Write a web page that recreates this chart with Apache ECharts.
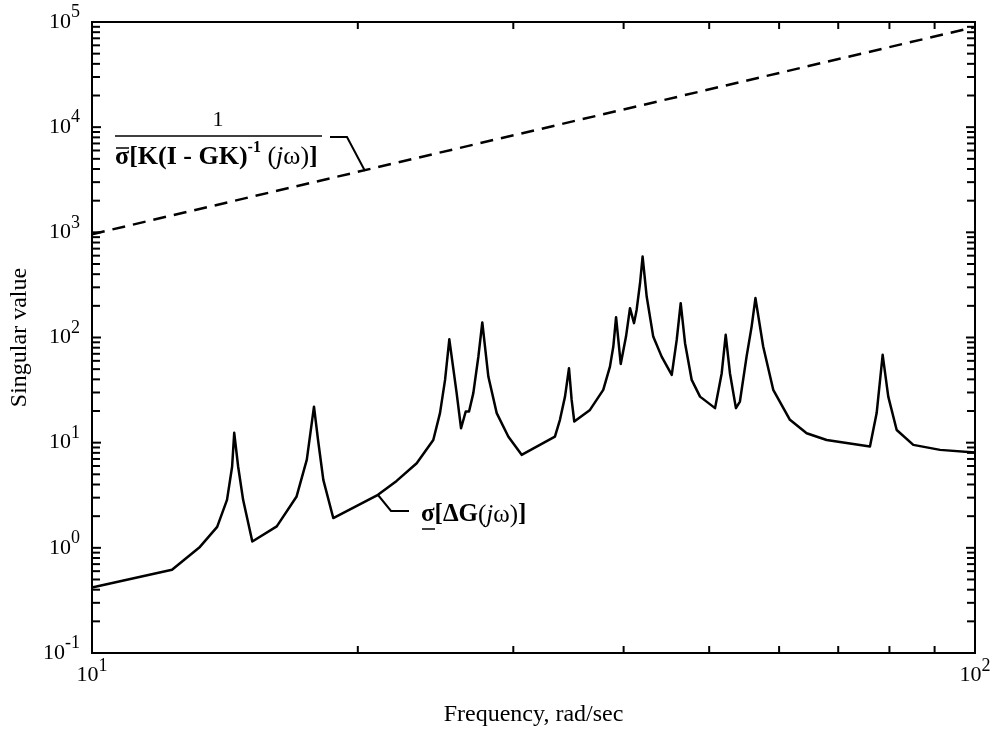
<!DOCTYPE html>
<html>
<head>
<meta charset="utf-8">
<script src="https://cdn.jsdelivr.net/npm/echarts@6/dist/echarts.min.js"></script>
<style>
  html, body { margin: 0; padding: 0; background: #fff; }
  #chart { width: 995px; height: 736px; }
</style>
</head>
<body>
<div id="chart"></div>
<script>
// Frequency grid (rad/sec) and lower singular value of the additive uncertainty
const freq = [10.0, 12.32, 13.25, 13.86, 14.22, 14.41, 14.49, 14.64, 14.83, 15.19,
  16.19, 17.05, 17.51, 17.84, 18.03, 18.28, 18.76, 21.08, 22.13, 23.32,
  24.35, 24.78, 25.11, 25.39, 25.88, 26.18, 26.50, 26.73, 27.03, 27.39,
  27.67, 28.11, 28.73, 29.62, 30.66, 33.44, 33.88, 34.33, 34.69, 34.93,
  35.17, 36.64, 37.93, 38.60, 38.94, 39.22, 39.70, 40.25, 40.67, 41.10,
  41.38, 41.75, 42.03, 42.48, 43.21, 44.17, 45.35, 45.94, 46.42, 46.95,
  47.77, 48.82, 50.77, 51.66, 52.20, 52.78, 53.61, 54.17, 55.12, 55.85,
  56.41, 57.56, 59.09, 61.72, 64.47, 67.92, 76.04, 77.38, 78.6, 79.76,
  81.53, 85.14, 91.3, 100];
const sigmaDeltaG = [0.42, 0.62, 1.02, 1.58, 2.86, 5.9, 12.4, 5.9, 2.86, 1.15,
  1.6, 3.08, 6.9, 22.0, 10.6, 4.43, 1.92, 3.19, 4.33, 6.38,
  10.6, 19.1, 39.5, 96, 29.6, 13.7, 19.8, 19.8, 29.6, 66,
  139, 42.5, 19.1, 11.4, 7.66, 11.4, 16.5, 27.4, 51, 25.5,
  15.9, 20.5, 31.8, 52.9, 82, 156, 56, 102, 190, 137,
  183, 328, 588, 245, 102, 65.8, 44.1, 94.9, 212, 88.3,
  39.5, 27.4, 21.3, 45.8, 106, 45.8, 21.3, 24.6, 65.8, 127,
  237, 82, 31.8, 16.5, 12.3, 10.6, 9.18, 19.1, 68.4, 27.4,
  13.2, 9.53, 8.54, 8.05];

// Robustness bound 1 / sigma_max[K(I-GK)^-1]
const boundFreq = [10, 100];
const boundValue = [960, 89600];

// Axis ranges and tick layout
const xRange = [10, 100];
const yRange = [0.1, 100000];
const yDecades = [-1, 0, 1, 2, 3, 4, 5];
const minorSteps = [2, 3, 4, 5, 6, 7, 8, 9];

const FONT = '"Liberation Serif", "Times New Roman", serif';

// tick marks: [x, y, kind]  kind 0 = y major, 1 = y minor, 2 = x minor
const tickData = [];
yDecades.forEach(function (d) {
  tickData.push([xRange[0], Math.pow(10, d), 0]);
  if (d < 5) {
    minorSteps.forEach(function (k) { tickData.push([xRange[0], k * Math.pow(10, d), 1]); });
  }
});
minorSteps.forEach(function (k) { tickData.push([k * 10, yRange[0], 2]); });

const chart = echarts.init(document.getElementById('chart'), null, { renderer: 'canvas' });

function powLabel(v) {
  const e = Math.round(Math.log10(v));
  return '{b|10}{e|' + e + '}';
}
const powRich = {
  b: { fontFamily: FONT, fontSize: 22, color: '#000' },
  e: { fontFamily: FONT, fontSize: 18, color: '#000', padding: [0, 0, 19, 0] }
};

chart.setOption({
  animation: false,
  backgroundColor: '#fff',
  grid: {
    left: 92, right: 20, top: 22, bottom: 83,
    show: true, borderColor: '#000', borderWidth: 2, backgroundColor: 'transparent'
  },
  xAxis: {
    type: 'log', logBase: 10, min: xRange[0], max: xRange[1],
    axisLine: { show: false }, axisTick: { show: false }, splitLine: { show: false },
    axisLabel: { formatter: powLabel, rich: powRich, margin: 4 },
    name: 'Frequency, rad/sec', nameLocation: 'middle', nameGap: 50,
    nameTextStyle: { fontFamily: FONT, fontSize: 24, color: '#000' }
  },
  yAxis: {
    type: 'log', logBase: 10, min: yRange[0], max: yRange[1],
    axisLine: { show: false }, axisTick: { show: false }, splitLine: { show: false },
    axisLabel: { formatter: powLabel, rich: powRich, margin: 12 },
    name: 'Singular value', nameLocation: 'middle', nameGap: 58, nameRotate: 90,
    nameTextStyle: { fontFamily: FONT, fontSize: 24, color: '#000' }
  },
  series: [
    {
      type: 'custom',
      silent: true,
      data: tickData,
      renderItem: function (params, api) {
        const kind = api.value(2);
        const children = [];
        const st = { stroke: '#000', lineWidth: 2 };
        if (kind === 2) {
          const p = api.coord([api.value(0), yRange[0]]);
          const q = api.coord([api.value(0), yRange[1]]);
          children.push({ type: 'line', shape: { x1: p[0], y1: p[1], x2: p[0], y2: p[1] - 7 }, style: st });
          children.push({ type: 'line', shape: { x1: q[0], y1: q[1], x2: q[0], y2: q[1] + 7 }, style: st });
        } else {
          const len = kind === 0 ? 9 : 8;
          const p = api.coord([xRange[0], api.value(1)]);
          const q = api.coord([xRange[1], api.value(1)]);
          children.push({ type: 'line', shape: { x1: p[0], y1: p[1], x2: p[0] + len, y2: p[1] }, style: st });
          children.push({ type: 'line', shape: { x1: q[0], y1: q[1], x2: q[0] - len, y2: q[1] }, style: st });
        }
        return { type: 'group', children: children };
      },
      z: 5
    },
    {
      type: 'line',
      data: boundFreq.map(function (f, i) { return [f, boundValue[i]]; }),
      symbol: 'none',
      lineStyle: { color: '#000', width: 2.5, type: [13, 8] },
      z: 3
    },
    {
      type: 'line',
      data: freq.map(function (f, i) { return [f, sigmaDeltaG[i]]; }),
      symbol: 'none',
      lineStyle: { color: '#000', width: 2.5, join: 'round' },
      z: 3
    }
  ],
  graphic: [
    // bound label: 1 over sigma-bar[...]
    {
      type: 'text', x: 218, y: 120,
      style: { text: '1', fontFamily: FONT, fontSize: 22, fill: '#000', align: 'center', verticalAlign: 'middle' }
    },
    { type: 'line', shape: { x1: 115, y1: 136, x2: 322, y2: 136 }, style: { stroke: '#000', lineWidth: 1.5 } },
    {
      type: 'text', x: 115, y: 157,
      style: {
        text: '{b|σ[K(I - GK)}{s|-1}{r| (}{i|j}{r|ω)}{b|]}',
        align: 'left', verticalAlign: 'middle', fill: '#000',
        rich: {
          b: { fontFamily: FONT, fontSize: 26, fontWeight: 'bold', color: '#000' },
          s: { fontFamily: FONT, fontSize: 16, fontWeight: 'bold', color: '#000', padding: [0, 0, 18, 0] },
          r: { fontFamily: FONT, fontSize: 26, color: '#000' },
          i: { fontFamily: FONT, fontSize: 26, fontStyle: 'italic', color: '#000' }
        }
      }
    },
    { type: 'line', shape: { x1: 116, y1: 148, x2: 129, y2: 148 }, style: { stroke: '#000', lineWidth: 1.5 } },
    {
      type: 'polyline', shape: { points: [[330, 137], [347, 137], [365, 171]] },
      style: { stroke: '#000', lineWidth: 2, fill: null }
    },
    // uncertainty label: sigma-underbar[dG(jw)]
    {
      type: 'text', x: 421, y: 515,
      style: {
        text: '{b|σ[ΔG}{r|(}{i|j}{r|ω)}{b|]}',
        align: 'left', verticalAlign: 'middle', fill: '#000',
        rich: {
          b: { fontFamily: FONT, fontSize: 25, fontWeight: 'bold', color: '#000' },
          r: { fontFamily: FONT, fontSize: 25, color: '#000' },
          i: { fontFamily: FONT, fontSize: 25, fontStyle: 'italic', color: '#000' }
        }
      }
    },
    { type: 'line', shape: { x1: 422, y1: 529, x2: 435, y2: 529 }, style: { stroke: '#000', lineWidth: 1.5 } },
    {
      type: 'polyline', shape: { points: [[378, 495], [391, 511], [409, 511]] },
      style: { stroke: '#000', lineWidth: 2, fill: null }
    }
  ]
});
</script>
</body>
</html>
